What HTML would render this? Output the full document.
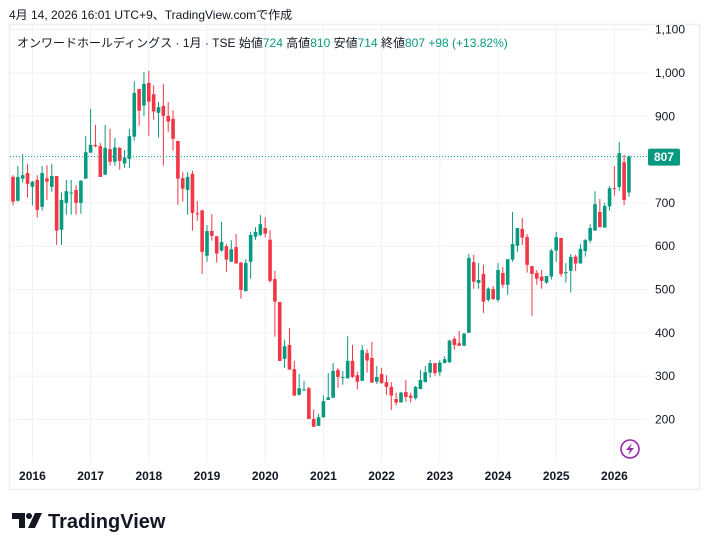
<!DOCTYPE html>
<html><head><meta charset="utf-8"><style>
body{margin:0;background:#fff;width:709px;height:550px;overflow:hidden;font-family:"Liberation Sans","Noto Sans CJK JP",sans-serif}
svg text{font-family:"Liberation Sans","Noto Sans CJK JP",sans-serif}
</style></head><body>
<svg id="chart" width="709" height="550" xmlns="http://www.w3.org/2000/svg">
<text x="9" y="19" font-size="12" fill="#131722">4月 14, 2026 16:01 UTC+9、TradingView.comで作成</text>
<rect x="9.5" y="24.5" width="690" height="465" fill="none" stroke="#eceef2" stroke-width="1.5"/>
<g id="grid"></g>
<g id="yaxis"></g>
<g id="xaxis"></g>
<g id="candles"></g>
<text x="17" y="47" font-size="12" fill="#131722">オンワードホールディングス · 1月 · TSE  始値<tspan fill="#089981">724</tspan>  高値<tspan fill="#089981">810</tspan>  安値<tspan fill="#089981">714</tspan>  終値<tspan fill="#089981">807</tspan>  <tspan fill="#089981">+98 (+13.82%)</tspan></text>
<g><circle cx="630" cy="449" r="9" fill="none" stroke="#9c27b0" stroke-width="1.6"/><path d="M632 443 L626 450 L630 450 L628 455 L634 448 L630 448 Z" fill="#9c27b0"/></g>
<g><path d="M12 513 H25 V528 H19 V519 H12 Z" fill="#131722"/><circle cx="29" cy="516" r="3" fill="#131722"/><path d="M35 513 H42 L35 528 H28 Z" fill="#131722"/><text x="48" y="528" font-size="20" font-weight="bold" fill="#131722">TradingView</text></g>
</svg>
<script>
const yTicks=[200,300,400,500,600,700,800,900,1000,1100];
const yTickLabels=["200","300","400","500","600","700","800","900","1,000","1,100"];
const years=[2016,2017,2018,2019,2020,2021,2022,2023,2024,2025,2026];
const opens=[760,705,756,769,737,753,691,757,737,762,638,700,724,730,700,756,816,834,831,765,824,795,827,791,802,853,963,925,977,951,908,924,901,894,843,757,730,767,676,683,578,635,623,590,600,564,598,562,496,564,622,626,642,615,524,471,340,372,316,257,268,272,201,185,205,245,250,314,298,295,335,302,289,353,342,287,305,286,275,247,239,263,255,249,270,286,308,330,309,330,332,386,376,370,400,563,515,536,476,501,476,538,511,569,601,640,621,554,538,530,516,530,590,619,539,543,576,560,589,613,636,679,643,692,734,737,794,724];
const highs=[764,785,813,790,751,764,785,787,790,762,724,753,753,741,753,854,917,880,838,880,871,850,829,822,871,981,963,1002,1005,972,933,975,933,914,843,771,771,774,704,683,649,674,623,656,605,614,628,564,570,633,644,672,667,637,543,471,384,411,335,305,289,275,223,213,255,307,330,319,312,392,372,310,372,362,379,323,319,302,286,262,264,291,262,277,314,323,337,330,337,346,384,391,404,400,582,580,561,557,505,508,561,552,570,679,642,665,628,554,545,545,531,594,633,619,561,582,580,605,617,651,727,709,700,739,785,841,811,810];
const lows=[694,703,747,712,694,666,682,707,726,603,603,673,673,673,675,756,816,828,760,765,786,786,777,781,781,844,878,901,855,892,851,786,864,821,696,703,673,636,659,536,564,613,562,587,541,564,560,479,496,525,615,623,620,516,391,335,319,315,255,255,266,201,183,185,204,245,250,273,280,294,296,269,289,308,285,282,282,257,222,232,239,241,239,246,270,286,296,301,301,330,330,361,370,370,400,502,502,446,472,476,471,504,488,564,587,603,539,439,511,502,513,523,564,530,516,493,543,560,576,608,636,644,643,682,717,728,695,714];
const closes=[703,760,764,744,749,684,769,749,762,636,707,727,724,700,751,817,834,831,760,827,795,828,797,805,854,954,913,975,934,911,921,901,888,848,756,733,760,677,675,587,635,624,583,610,569,593,560,499,561,626,633,651,629,520,472,335,369,315,255,272,269,201,183,205,242,251,312,298,298,335,298,287,360,336,285,298,284,275,255,239,262,252,250,275,291,309,330,307,331,339,382,372,370,398,573,518,522,472,502,478,545,511,570,605,642,620,557,536,525,520,531,590,621,536,540,575,560,594,614,642,697,644,693,734,733,815,707,807];
const NS='http://www.w3.org/2000/svg';
const X0=13,DX=4.85,PL=10,PR=647,PT=25,PB=462;
function xScale(i){return X0+i*DX;}
function yScale(v){return 73+(1000-v)*0.433;}
function yearX(yr){return xScale((yr-2016)*12+4);}
function mk(tag,attrs,parent){const e=document.createElementNS(NS,tag);for(const k in attrs)e.setAttribute(k,attrs[k]);parent.appendChild(e);return e;}
const grid=document.getElementById('grid'),ya=document.getElementById('yaxis'),xa=document.getElementById('xaxis'),cg=document.getElementById('candles');
yTicks.forEach((t,k)=>{const y=yScale(t);
 const l=mk('line',{x1:PL,x2:PR,y1:y,y2:y,stroke:'#f0f1f4'},grid);
 
 
 const tx=mk('text',{x:655,y:y+4,'font-size':12,fill:'#131722'},ya);
 
 
 tx.textContent=yTickLabels[k];});
years.forEach(yr=>{const x=yearX(yr);
 const l=mk('line',{x1:x,x2:x,y1:PT,y2:PB,stroke:'#f0f1f4'},grid);
 
 
 const tx=mk('text',{x:x,y:480,'font-size':12,'font-weight':'bold',fill:'#131722','text-anchor':'middle'},xa);
 
 
 tx.textContent=String(yr);});
opens.forEach((o,i)=>{const c=closes[i],h=highs[i],lo=lows[i];const col=c>=o?'#089981':'#f23645';const x=xScale(i);
 const g=mk('g',{},cg);
 
 
 mk('line',{x1:x,x2:x,y1:yScale(h),y2:yScale(lo),stroke:col,'stroke-width':1},g);
 const top=yScale(Math.max(o,c)),bot=yScale(Math.min(o,c));
 mk('rect',{x:x-1.8,y:top,width:3.6,height:Math.max(1,bot-top),fill:col},g);});
const last=closes[closes.length-1],ly=yScale(last);
const dl=mk('line',{x1:PL,x2:PR,y1:ly,y2:ly,stroke:'#089981','stroke-dasharray':'1 2'},cg);


const lb=mk('rect',{x:648,y:ly-8,width:32,height:17,rx:2,fill:'#089981'},ya);


const lt=mk('text',{x:664,y:ly+4.5,'font-size':12,'font-weight':'bold',fill:'#fff','text-anchor':'middle'},ya);


lt.textContent=String(last);
</script>
</body></html>
